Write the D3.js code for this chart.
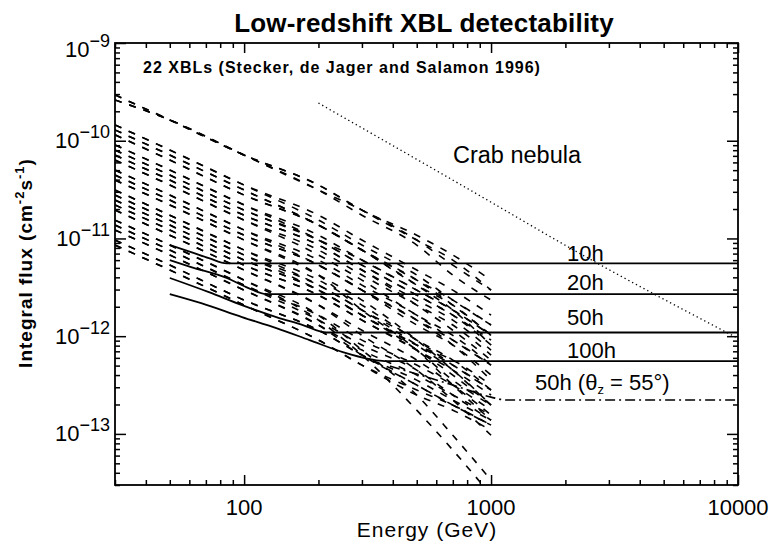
<!DOCTYPE html>
<html><head><meta charset="utf-8">
<script src="https://cdn.jsdelivr.net/npm/d3@7"></script>
<style>
body{margin:0;background:#fff}
svg{display:block}
text{font-family:"Liberation Sans",Arial,Helvetica,sans-serif;fill:#000}
</style>
</head><body>
<svg id="chart" width="769" height="544"></svg>
<script>
// ---------- data ----------
const titleText = "Low-redshift XBL detectability";
const noteText = "22 XBLs (Stecker, de Jager and Salamon 1996)";
const xTickValues = [100, 1000, 10000];
const xTickLabels = ["100", "1000", "10000"];
const yTickValues = [1e-9, 1e-10, 1e-11, 1e-12, 1e-13];
const yTickExponents = ["\u22129", "\u221210", "\u221211", "\u221212", "\u221213"];

const xblEnergies = [30, 50, 100, 200, 300, 500, 700, 1000];
// integral flux per XBL, low-IR absorption case
const xblFluxLowIR = [
  [2.94e-10,1.63e-10,7.13e-11,3.52e-11,1.95e-11,1.08e-11,6.77e-12,3.75e-12],
  [2.61e-10,1.63e-10,7.13e-11,3.13e-11,1.95e-11,9.63e-12,5.34e-12,2.96e-12],
  [1.29e-10,7.13e-11,3.13e-11,1.37e-11,7.61e-12,3.75e-12,2.08e-12,1.02e-12],
  [1.45e-10,8.03e-11,3.52e-11,1.73e-11,9.63e-12,4.75e-12,2.96e-12,1.64e-12],
  [1.15e-10,6.34e-11,2.78e-11,1.37e-11,7.61e-12,3.75e-12,2.34e-12,1.30e-12],
  [9.06e-11,5.01e-11,2.20e-11,1.08e-11,6.01e-12,2.96e-12,1.85e-12,1.02e-12],
  [8.03e-11,4.45e-11,1.95e-11,9.63e-12,6.01e-12,2.96e-12,1.85e-12,1.02e-12],
  [7.13e-11,3.96e-11,1.73e-11,8.56e-12,4.75e-12,2.34e-12,1.46e-12,7.21e-13],
  [6.34e-11,3.52e-11,1.54e-11,7.61e-12,4.22e-12,2.08e-12,1.30e-12,6.41e-13],
  [5.01e-11,2.78e-11,1.22e-11,6.01e-12,3.33e-12,1.64e-12,9.12e-13,5.06e-13],
  [4.45e-11,2.47e-11,1.08e-11,5.34e-12,2.96e-12,1.46e-12,9.12e-13,5.06e-13],
  [3.96e-11,2.20e-11,9.63e-12,4.22e-12,2.34e-12,9.12e-13,4.50e-13,1.97e-13],
  [3.13e-11,1.73e-11,7.61e-12,3.75e-12,2.08e-12,9.12e-13,5.69e-13,2.81e-13],
  [2.78e-11,1.54e-11,6.77e-12,3.33e-12,1.85e-12,9.12e-13,5.06e-13,2.81e-13],
  [2.47e-11,1.37e-11,6.01e-12,2.96e-12,1.64e-12,8.11e-13,5.69e-13,3.16e-13],
  [2.20e-11,1.22e-11,5.34e-12,2.63e-12,1.46e-12,7.21e-13,4.50e-13,2.50e-13],
  [1.95e-11,1.08e-11,4.75e-12,2.08e-12,1.15e-12,5.69e-13,3.16e-13,1.56e-13],
  [1.54e-11,8.56e-12,3.75e-12,1.64e-12,7.21e-13,2.50e-13,9.69e-14,3.37e-14],
  [1.37e-11,7.61e-12,3.33e-12,1.64e-12,9.12e-13,5.06e-13,3.16e-13,1.75e-13],
  [1.22e-11,6.77e-12,2.96e-12,1.30e-12,7.21e-13,4.00e-13,2.50e-13,1.56e-13],
  [9.63e-12,5.34e-12,2.34e-12,1.15e-12,6.41e-13,3.55e-13,2.22e-13,1.38e-13],
  [8.56e-12,4.75e-12,2.08e-12,9.12e-13,5.06e-13,2.81e-13,1.97e-13,1.23e-13]
];
// integral flux per XBL, high-IR absorption case
const xblFluxHighIR = [
  [2.94e-10,1.63e-10,7.13e-11,3.52e-11,1.95e-11,9.63e-12,6.01e-12,2.96e-12],
  [2.61e-10,1.63e-10,7.13e-11,3.13e-11,1.73e-11,8.56e-12,4.22e-12,2.34e-12],
  [1.29e-10,7.13e-11,3.13e-11,1.37e-11,7.61e-12,3.33e-12,1.85e-12,8.11e-13],
  [1.45e-10,8.03e-11,3.52e-11,1.54e-11,8.56e-12,4.22e-12,2.34e-12,1.30e-12],
  [1.15e-10,6.34e-11,2.78e-11,1.37e-11,7.61e-12,3.33e-12,2.08e-12,1.02e-12],
  [9.06e-11,5.01e-11,2.20e-11,9.63e-12,5.34e-12,2.63e-12,1.64e-12,8.11e-13],
  [8.03e-11,4.45e-11,1.95e-11,9.63e-12,5.34e-12,2.63e-12,1.64e-12,9.12e-13],
  [7.13e-11,3.96e-11,1.73e-11,8.56e-12,4.75e-12,2.08e-12,1.15e-12,5.69e-13],
  [6.34e-11,3.52e-11,1.54e-11,6.77e-12,3.75e-12,1.64e-12,1.02e-12,5.06e-13],
  [5.01e-11,2.78e-11,1.22e-11,5.34e-12,2.96e-12,1.46e-12,8.11e-13,3.55e-13],
  [4.45e-11,2.47e-11,1.08e-11,5.34e-12,2.96e-12,1.30e-12,8.11e-13,4.00e-13],
  [3.96e-11,2.20e-11,9.63e-12,4.22e-12,1.85e-12,7.21e-13,3.16e-13,1.38e-13],
  [3.13e-11,1.73e-11,7.61e-12,3.33e-12,1.85e-12,8.11e-13,4.50e-13,1.97e-13],
  [2.78e-11,1.54e-11,6.77e-12,2.96e-12,1.64e-12,7.21e-13,3.55e-13,1.97e-13],
  [2.47e-11,1.37e-11,6.01e-12,2.96e-12,1.64e-12,8.11e-13,5.06e-13,2.81e-13],
  [2.20e-11,1.22e-11,5.34e-12,2.63e-12,1.46e-12,7.21e-13,4.00e-13,1.97e-13],
  [1.95e-11,1.08e-11,4.75e-12,2.08e-12,1.02e-12,4.50e-13,2.22e-13,9.69e-14],
  [1.54e-11,8.56e-12,3.75e-12,1.46e-12,6.41e-13,1.75e-13,6.83e-14,2.36e-14],
  [1.37e-11,7.61e-12,3.33e-12,1.46e-12,8.11e-13,4.50e-13,2.50e-13,1.38e-13],
  [1.22e-11,6.77e-12,2.96e-12,1.30e-12,6.41e-13,3.16e-13,1.97e-13,1.23e-13],
  [9.63e-12,5.34e-12,2.34e-12,1.15e-12,6.41e-13,3.16e-13,1.97e-13,1.23e-13],
  [8.56e-12,4.75e-12,2.08e-12,9.12e-13,5.06e-13,2.50e-13,1.75e-13,1.09e-13]
];

const crabEnergy = [200, 1000, 2000, 10000];
const crabFlux = [2.43e-10, 2.35e-11, 8.5e-12, 9.5e-13];

const sens10hEnergy = [50, 61, 72, 85, 10000];
const sens10hFlux = [8.55e-12, 7.26e-12, 6.30e-12, 5.56e-12, 5.56e-12];
const sens20hEnergy = [50, 61, 85, 102, 123, 10000];
const sens20hFlux = [6.01e-12, 5.09e-12, 3.94e-12, 3.18e-12, 2.69e-12, 2.69e-12];
const sens50hEnergy = [50, 72, 98, 135, 173, 216, 10000];
const sens50hFlux = [3.94e-12, 2.82e-12, 2.08e-12, 1.57e-12, 1.30e-12, 1.09e-12, 1.09e-12];
const sens100hEnergy = [50, 67, 98, 135, 184, 251, 324, 370, 10000];
const sens100hFlux = [2.70e-12, 2.18e-12, 1.57e-12, 1.21e-12, 9.12e-13, 6.87e-13, 5.82e-13, 5.56e-13, 5.56e-13];
const sens50hZ55Energy = [390, 500, 700, 1000, 1150, 10000];
const sens50hZ55Flux = [4.94e-13, 4.10e-13, 3.16e-13, 2.38e-13, 2.22e-13, 2.22e-13];
const sensLabels = ["10h", "20h", "50h", "100h"];

// ---------- drawing ----------
const svg = d3.select("#chart");
const L = 115, R = 738, T = 43, B = 485;
const x = d3.scaleLog().domain([30, 10000]).range([L, R]);
const y = d3.scaleLog().domain([3e-14, 1e-9]).range([B, T]);

svg.append("defs").append("clipPath").attr("id", "plotclip")
  .append("rect").attr("x", L).attr("y", T).attr("width", R - L).attr("height", B - T);

const line = d3.line().x(d => x(d[0])).y(d => y(d[1])).curve(d3.curveMonotoneX);
const zipE = (E, F) => E.map((e, i) => [e, F[i]]);

const plot = svg.append("g").attr("clip-path", "url(#plotclip)");

// XBL curves
[xblFluxLowIR, xblFluxHighIR].forEach(set => {
  set.forEach(F => {
    plot.append("path").attr("d", line(zipE(xblEnergies, F)))
      .attr("fill", "none").attr("stroke", "#000").attr("stroke-width", 1.6)
      .attr("stroke-dasharray", "7,8");
  });
});

// Crab nebula
plot.append("path").attr("d", line(zipE(crabEnergy, crabFlux)))
  .attr("fill", "none").attr("stroke", "#000").attr("stroke-width", 1.3)
  .attr("stroke-dasharray", "1.3,3").attr("stroke-linecap", "butt");

// sensitivity curves
[[sens10hEnergy, sens10hFlux], [sens20hEnergy, sens20hFlux], [sens50hEnergy, sens50hFlux], [sens100hEnergy, sens100hFlux]]
  .forEach(([E, F]) => {
    plot.append("path").attr("d", line(zipE(E, F)))
      .attr("fill", "none").attr("stroke", "#000").attr("stroke-width", 1.8);
  });
plot.append("path").attr("d", line(zipE(sens50hZ55Energy, sens50hZ55Flux)))
  .attr("fill", "none").attr("stroke", "#000").attr("stroke-width", 1.6)
  .attr("stroke-dasharray", "10,4,2,4");

// axes (ticks inward)
const xMinor = x.ticks().filter(v => !xTickValues.includes(v));
const yMinor = y.ticks().filter(v => !yTickValues.some(t => Math.abs(t - v) / t < 1e-6));
function axisG(axis, tf) {
  const g = svg.append("g").attr("transform", tf).call(axis);
  g.select(".domain").remove();
  g.selectAll("line").attr("stroke", "#000").attr("stroke-width", 1.5);
  g.selectAll("text").remove();
  return g;
}
axisG(d3.axisBottom(x).tickValues(xMinor).tickSize(-5).tickFormat(""), `translate(0,${B})`);
axisG(d3.axisBottom(x).tickValues(xTickValues).tickSize(-10).tickFormat(""), `translate(0,${B})`);
axisG(d3.axisTop(x).tickValues(xMinor).tickSize(-5).tickFormat(""), `translate(0,${T})`);
axisG(d3.axisTop(x).tickValues(xTickValues).tickSize(-10).tickFormat(""), `translate(0,${T})`);
axisG(d3.axisLeft(y).tickValues(yMinor).tickSize(-5).tickFormat(""), `translate(${L},0)`);
axisG(d3.axisLeft(y).tickValues(yTickValues).tickSize(-11).tickFormat(""), `translate(${L},0)`);
axisG(d3.axisRight(y).tickValues(yMinor).tickSize(-5).tickFormat(""), `translate(${R},0)`);
axisG(d3.axisRight(y).tickValues(yTickValues).tickSize(-11).tickFormat(""), `translate(${R},0)`);

svg.append("rect").attr("x", L).attr("y", T).attr("width", R - L).attr("height", B - T)
  .attr("fill", "none").attr("stroke", "#000").attr("stroke-width", 1.8);

// x tick labels
svg.selectAll(".xl").data(xTickValues).enter().append("text")
  .attr("x", d => x(d)).attr("y", 515).attr("text-anchor", "middle")
  .attr("font-size", 22).text((d, i) => xTickLabels[i]);

// y tick labels
yTickValues.forEach((v, i) => {
  const base = y(v) + (i === 0 ? 14 : 7.5);
  const t = svg.append("text").attr("x", 110).attr("y", base).attr("text-anchor", "end").attr("font-size", 22);
  t.append("tspan").text("10");
  t.append("tspan").attr("font-size", 18).attr("dy", -10).text(yTickExponents[i]);
});

// titles
svg.append("text").attr("x", 424).attr("y", 32).attr("text-anchor", "middle")
  .attr("font-size", 26).attr("font-weight", "bold").attr("letter-spacing", 0.2).text(titleText);
svg.append("text").attr("x", 143).attr("y", 73)
  .attr("font-size", 16).attr("font-weight", "bold").attr("letter-spacing", 1).text(noteText);
svg.append("text").attr("x", 427).attr("y", 537).attr("text-anchor", "middle")
  .attr("font-size", 21).attr("letter-spacing", 1).text("Energy (GeV)");

const yl = svg.append("text").attr("transform", "translate(32,263) rotate(-90)")
  .attr("text-anchor", "middle").attr("font-size", 19).attr("font-weight", "bold").attr("letter-spacing", 1);
yl.append("tspan").text("Integral flux (cm");
yl.append("tspan").attr("font-size", 13).attr("dy", -8).text("-2");
yl.append("tspan").attr("dy", 8).text("s");
yl.append("tspan").attr("font-size", 13).attr("dy", -8).text("-1");
yl.append("tspan").attr("dy", 8).text(")");

// curve labels
svg.append("text").attr("x", 453).attr("y", 163).attr("font-size", 23.5).text("Crab nebula");
const sensY = [261, 290, 325, 358];
sensLabels.forEach((s, i) => {
  svg.append("text").attr("x", 567).attr("y", sensY[i]).attr("font-size", 22).text(s);
});
const zl = svg.append("text").attr("x", 535).attr("y", 390).attr("font-size", 22);
zl.append("tspan").text("50h (\u03b8");
zl.append("tspan").attr("font-size", 13).attr("dy", 4).text("z");
zl.append("tspan").attr("dy", -4).text(" = 55\u00b0)");
</script>
</body></html>
